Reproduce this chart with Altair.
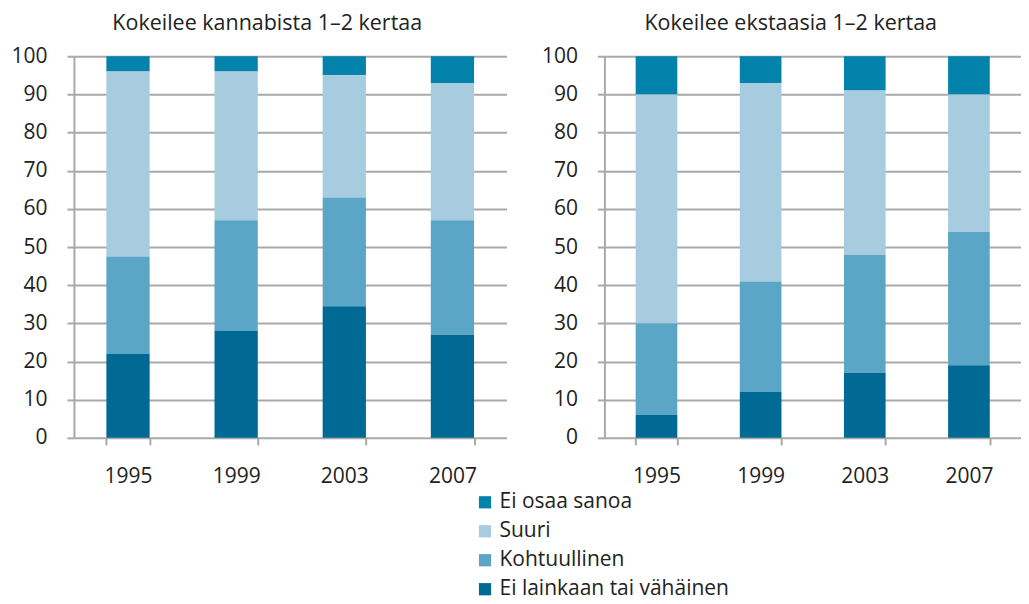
import altair as alt
import pandas as pd

years = ["1995", "1999", "2003", "2007"]
categories = ["Ei osaa sanoa", "Suuri", "Kohtuullinen", "Ei lainkaan tai vähäinen"]
colors = ["#0382ac", "#a7cbdf", "#5ba5c6", "#006994"]
stack_rank = [3, 2, 1, 0]

# Kokeilee kannabista 1–2 kertaa (bottom -> top order: Ei lainkaan, Kohtuullinen, Suuri, Ei osaa)
kannabis_ei_lainkaan = [22, 28, 34.5, 27]
kannabis_kohtuullinen = [25.5, 29, 28.5, 30]
kannabis_suuri = [48.5, 39, 32, 36]
kannabis_ei_osaa = [4, 4, 5, 7]

# Kokeilee ekstaasia 1–2 kertaa
ekstaasi_ei_lainkaan = [6, 12, 17, 19]
ekstaasi_kohtuullinen = [24, 29, 31, 35]
ekstaasi_suuri = [60, 52, 43, 36]
ekstaasi_ei_osaa = [10, 7, 9, 10]

title_left = "Kokeilee kannabista 1–2 kertaa"
title_right = "Kokeilee ekstaasia 1–2 kertaa"


def build(series):
    rows = []
    for cat, vals in series.items():
        for y, v in zip(years, vals):
            rows.append({"year": y, "cat": cat, "value": v,
                         "rank": stack_rank[categories.index(cat)]})
    return pd.DataFrame(rows)


df_left = build({
    "Ei osaa sanoa": kannabis_ei_osaa,
    "Suuri": kannabis_suuri,
    "Kohtuullinen": kannabis_kohtuullinen,
    "Ei lainkaan tai vähäinen": kannabis_ei_lainkaan,
})
df_right = build({
    "Ei osaa sanoa": ekstaasi_ei_osaa,
    "Suuri": ekstaasi_suuri,
    "Kohtuullinen": ekstaasi_kohtuullinen,
    "Ei lainkaan tai vähäinen": ekstaasi_ei_lainkaan,
})

FONT = "Open Sans"
GRID = "#a9a9a9"
TXT = "#222222"


def panel(df, title, width, dx):
    return alt.Chart(df, title=alt.Title(title, fontSize=21.5, font=FONT, fontWeight="normal",
                                          color=TXT, offset=11, dx=dx)).mark_bar().encode(
        x=alt.X("year:N", sort=years,
                scale=alt.Scale(paddingInner=0.6, paddingOuter=0.3),
                axis=alt.Axis(title=None, labelAngle=0, domain=False, ticks=True,
                              tickBand="extent", tickColor=GRID, tickWidth=2, tickSize=7,
                              labelFontSize=21, labelFont=FONT, labelColor=TXT,
                              labelPadding=21)),
        y=alt.Y("value:Q", stack="zero",
                scale=alt.Scale(domain=[0, 100], nice=False),
                axis=alt.Axis(title=None, values=list(range(0, 101, 10)),
                              grid=True, gridColor=GRID, gridWidth=2,
                              domain=True, domainColor=GRID, domainWidth=2,
                              tickColor=GRID, tickWidth=2, tickSize=7,
                              labelFontSize=21, labelFont=FONT, labelColor=TXT,
                              labelPadding=20)),
        color=alt.Color("cat:N", sort=categories,
                        scale=alt.Scale(domain=categories, range=colors),
                        legend=alt.Legend(title=None, orient="none", legendX=401, legendY=436,
                                          symbolType="square", symbolSize=150,
                                          symbolStrokeWidth=0, labelLimit=0,
                                          labelFontSize=21, labelFont=FONT,
                                          labelColor=TXT, rowPadding=7,
                                          labelOffset=4)),
        order=alt.Order("rank:Q", sort="ascending"),
    ).properties(width=width, height=382)


chart = alt.hconcat(
    panel(df_left, title_left, 433, -23),
    panel(df_right, title_right, 417, -22),
    spacing=34,
).properties(
    padding={"left": 2, "top": 4, "right": 0, "bottom": 0}
).configure_view(stroke=None)

chart.save("out.html", embed_options={"renderer": "svg", "actions": False})
